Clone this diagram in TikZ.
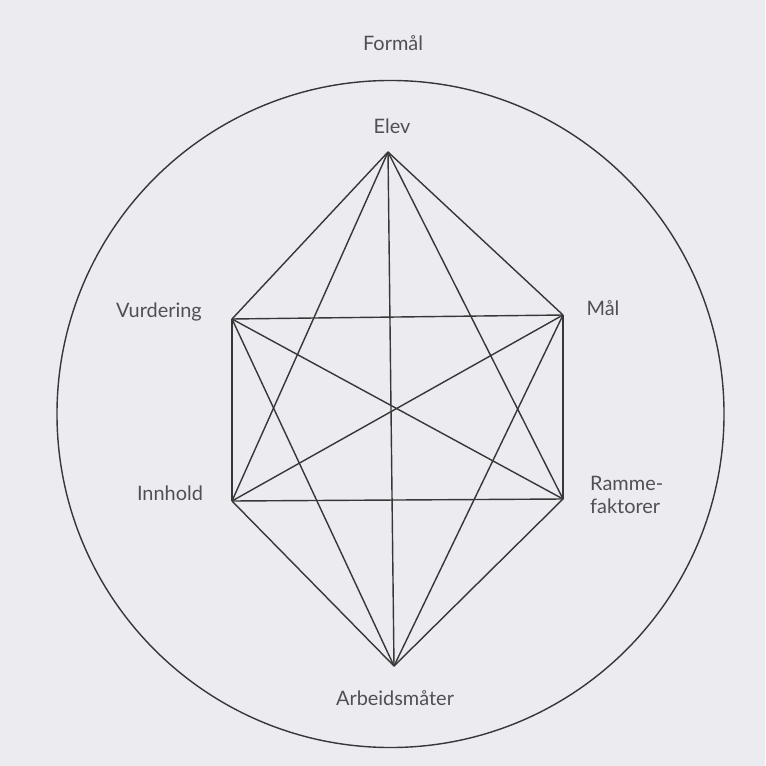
\documentclass[tikz,border=0pt]{standalone}
\usepackage{fontspec}
\setmainfont{Lato}
\definecolor{papir}{RGB}{236,236,240}
\definecolor{blekk}{RGB}{55,55,58}
\definecolor{skrift}{RGB}{80,80,84}
\tikzset{
    strek/.style={draw=blekk, line width=1.2pt, line join=round},
    tekst/.style={text=skrift, font=\fontsize{17}{20}\selectfont, inner sep=0pt}
}
\begin{document}
\begin{tikzpicture}[x=0.03cm, y=-0.03cm]
    % 1. Bakgrunn (side 765 x 766)
    \fill[papir] (0,0) rectangle (765,766);
    \useasboundingbox (0,0) rectangle (765,766);

    % 2. Sirkelen rundt modellen
    \draw[strek] (390.5,414) circle (10.005cm);

    % 3. Hjørnene i sekskanten
    \coordinate (elev)  at (388,152);
    \coordinate (vurd)  at (232,319);
    \coordinate (maal)  at (563,315);
    \coordinate (innh)  at (232,501);
    \coordinate (ramme) at (563,499);
    \coordinate (arb)   at (394,666);

    % 4. Alle linjer mellom hjørnene
    \foreach \a/\b in {elev/vurd, elev/maal, elev/innh, elev/ramme, elev/arb,
                       vurd/maal, vurd/innh, vurd/ramme, vurd/arb,
                       maal/innh, maal/ramme, maal/arb,
                       innh/ramme, innh/arb,
                       ramme/arb}
        \draw[strek] (\a) -- (\b);

    % 5. Navn
    \node[tekst] (formaal) at (393,43) {Formål};
    \node[tekst] (elevtxt) at (392,126) {Elev};
    \node[tekst] (vurdtxt) at (159,312) {Vurdering};
    \node[tekst] (maaltxt) at (603,308) {Mål};
    \node[tekst] (innhtxt) at (170,493) {Innhold};
    \node[tekst, anchor=west, align=left] (rammetxt) at (590,495) {Ramme-\\faktorer};
    \node[tekst] (arbtxt) at (395,698) {Arbeidsmåter};
\end{tikzpicture}
\end{document}
